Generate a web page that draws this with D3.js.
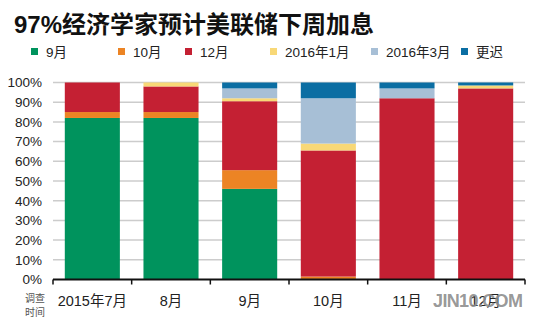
<!DOCTYPE html>
<html>
<head>
<meta charset="utf-8">
<script src="https://cdn.jsdelivr.net/npm/d3@7"></script>
<style>
  html, body { margin: 0; padding: 0; background: #fff; }
  svg { display: block; }
  text { font-family: "Liberation Sans", "Noto Sans CJK SC", sans-serif; }
</style>
</head>
<body>
<svg id="chart" width="554" height="326"></svg>
<script>
// Survey months (x axis)
const surveys = ["2015年7月", "8月", "9月", "10月", "11月", "12月"];
// Expected timing of the first hike (stack order, bottom to top)
const seriesNames = ["9月", "10月", "12月", "2016年1月", "2016年3月", "更迟"];
const seriesColors = ["#00935d", "#ec8424", "#c42033", "#f8d877", "#a7bfd6", "#0b6ea3"];
// Share of economists (%) per survey month, one array per answer
const sep     = [82, 82, 46,  0,  0,  0];
const oct     = [ 3,  3, 9.5, 1.5, 0,  0];
const dec     = [15, 13, 35, 64, 92, 97];
const jan2016 = [ 0,  2, 1.5, 3.5, 0, 1.5];
const mar2016 = [ 0,  0,  5, 23,  5,  0];
const later   = [ 0,  0,  3,  8,  3, 1.5];
const yTicks = [0, 10, 20, 30, 40, 50, 60, 70, 80, 90, 100];

const seriesValues = [sep, oct, dec, jan2016, mar2016, later];
const rows = surveys.map((s, i) => {
  const r = { survey: s };
  seriesNames.forEach((n, k) => { r[n] = seriesValues[k][i]; });
  return r;
});

const svg = d3.select("#chart");
const plotLeft = 53, plotRight = 525, plotTop = 82.5, plotBottom = 279.5;

const x = d3.scaleBand().domain(surveys).range([plotLeft, plotRight])
  .paddingInner(0.3).paddingOuter(0.15);
const y = d3.scaleLinear().domain([0, 100]).range([plotBottom, plotTop]);
const color = d3.scaleOrdinal().domain(seriesNames).range(seriesColors);

// Title
svg.append("text")
  .attr("x", 14).attr("y", 33)
  .attr("font-family", "'Noto Sans CJK SC', sans-serif")
  .attr("font-weight", "bold").attr("font-size", 24).attr("fill", "#111")
  .text("97%经济学家预计美联储下周加息");

// Legend
const legendX = [31, 118, 185, 270, 371, 461];
const legend = svg.append("g").selectAll("g").data(seriesNames).join("g")
  .attr("transform", (d, i) => `translate(${legendX[i]},51.5)`);
legend.append("rect").attr("x", 0).attr("y", -3.5).attr("width", 7).attr("height", 7)
  .attr("fill", d => color(d));
legend.append("text").attr("x", 15).attr("y", 5)
  .attr("font-size", 13.5).attr("fill", "#222")
  .attr("font-family", "'Noto Sans CJK SC', sans-serif")
  .text(d => d);

// Gridlines
svg.append("g").selectAll("line").data(yTicks.filter(t => t > 0)).join("line")
  .attr("x1", plotLeft).attr("x2", plotRight)
  .attr("y1", d => y(d)).attr("y2", d => y(d))
  .attr("stroke", "#cccccc").attr("stroke-width", 1.5);

// Stacked bars
const stack = d3.stack().keys(seriesNames)(rows);
svg.append("g").selectAll("g").data(stack).join("g")
  .attr("fill", d => color(d.key))
  .selectAll("rect").data(d => d).join("rect")
  .attr("x", d => x(d.data.survey))
  .attr("width", x.bandwidth())
  .attr("y", d => y(d[1]))
  .attr("height", d => y(d[0]) - y(d[1]));

// Y axis labels
const yAxis = svg.append("g").attr("transform", `translate(${plotLeft},0)`)
  .call(d3.axisLeft(y).tickValues(yTicks).tickFormat(d => d + "%").tickSize(0).tickPadding(11));
yAxis.select(".domain").remove();
yAxis.selectAll("text").attr("font-size", 13.5).attr("fill", "#222")
  .attr("font-family", "'Liberation Sans', sans-serif");

// X axis with ticks at band boundaries
const xAxis = svg.append("g").attr("transform", `translate(0,${plotBottom})`);
xAxis.append("line").attr("x1", plotLeft).attr("x2", plotRight)
  .attr("stroke", "#111").attr("stroke-width", 2);
const bounds = surveys.map(s => x(s) - x.step() * x.paddingInner() / 2);
bounds[0] = plotLeft;
bounds.push(plotRight);
xAxis.selectAll("line.tick").data(bounds).join("line").attr("class", "tick")
  .attr("x1", d => d).attr("x2", d => d).attr("y1", 0).attr("y2", 5)
  .attr("stroke", "#111").attr("stroke-width", 1.5);
xAxis.selectAll("text").data(surveys).join("text")
  .attr("x", d => x(d) + x.bandwidth() / 2).attr("y", 26)
  .attr("text-anchor", "middle").attr("font-size", 14.5).attr("fill", "#222")
  .attr("font-family", "'Noto Sans CJK SC', sans-serif")
  .text(d => d);

// Axis caption
const cap = svg.append("g").attr("font-size", 10).attr("fill", "#555")
  .attr("font-family", "'Noto Sans CJK SC', sans-serif").attr("text-anchor", "middle");
cap.append("text").attr("x", 35).attr("y", 302).text("调查");
cap.append("text").attr("x", 35).attr("y", 316).text("时间");

// Site mark
svg.append("text").attr("x", 433).attr("y", 307)
  .attr("font-family", "'Liberation Sans', sans-serif")
  .attr("font-weight", "bold").attr("font-size", 18).attr("fill", "#8c8c8c")
  .attr("fill-opacity", 0.9).attr("textLength", 90)
  .text("JIN10.COM");
</script>
</body>
</html>
